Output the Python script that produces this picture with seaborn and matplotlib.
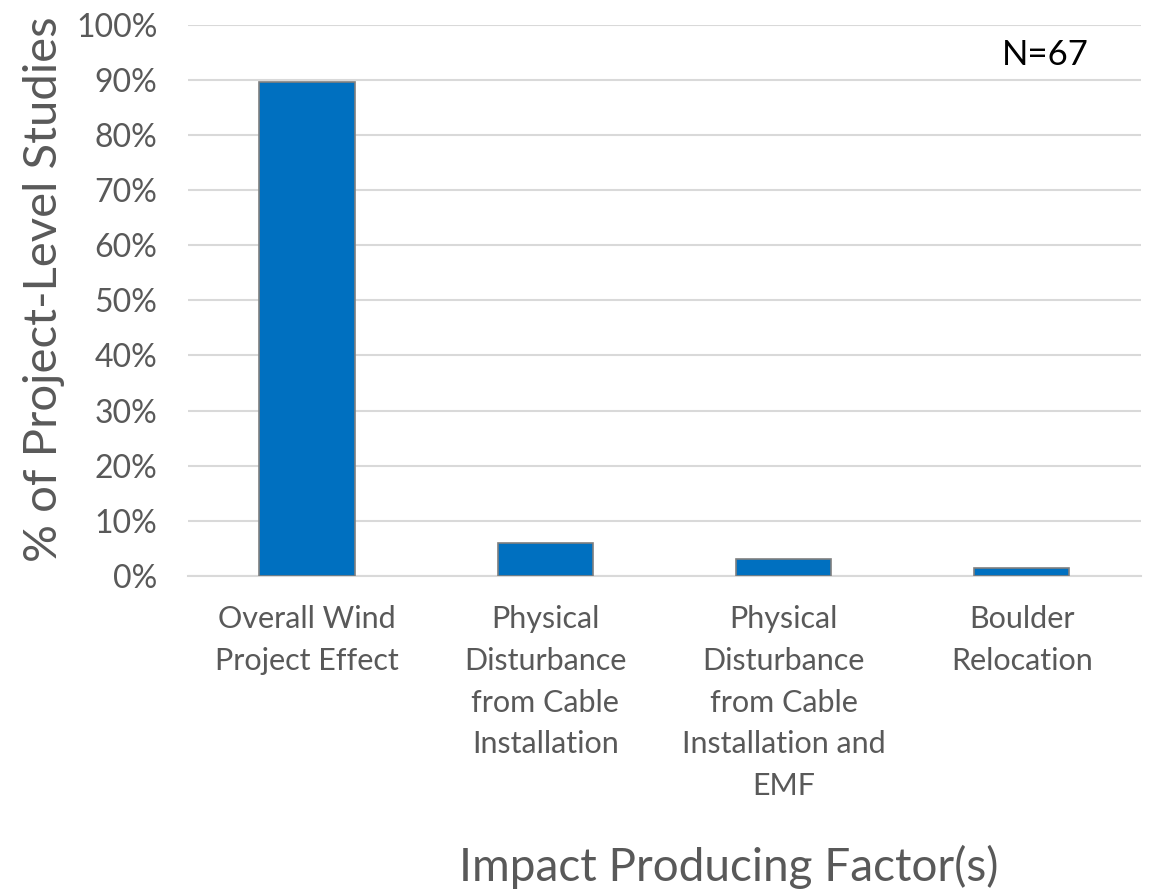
import pandas as pd
import matplotlib.pyplot as plt
import seaborn as sns
from matplotlib.ticker import PercentFormatter

# Data
factors = [
    "Overall Wind\nProject Effect",
    "Physical\nDisturbance\nfrom Cable\nInstallation",
    "Physical\nDisturbance\nfrom Cable\nInstallation and\nEMF",
    "Boulder\nRelocation",
]
study_counts = [60, 4, 2, 1]
n_total = 67
shares = [c / n_total * 100 for c in study_counts]
y_ticks = list(range(0, 101, 10))

df = pd.DataFrame({"Factor": factors, "Share": shares})

sns.set_theme(style="white")
plt.rcParams["font.family"] = ["Lato", "DejaVu Sans"]

fig = plt.figure(figsize=(11.49, 8.90), dpi=100)
ax = fig.add_axes([0.1636, 0.353, 0.8294, 0.619])

sns.barplot(data=df, x="Factor", y="Share", color="#0070C0", width=0.4,
            edgecolor="#7f7f7f", linewidth=1.2, saturation=1, ax=ax, zorder=3)

ax.set_ylim(0, 100)
ax.set_xlim(-0.5, 3.5)
ax.set_yticks(y_ticks)
ax.yaxis.set_major_formatter(PercentFormatter(decimals=0))
ax.grid(axis="y", color="#d9d9d9", linewidth=1.5, zorder=0)
for side in ["top", "right", "left"]:
    ax.spines[side].set_visible(False)
ax.spines["bottom"].set_color("#d9d9d9")
ax.spines["bottom"].set_linewidth(1.5)
ax.tick_params(axis="both", length=0, colors="#595959")
ax.tick_params(axis="y", pad=22, labelsize=23)
ax.tick_params(axis="x", pad=21, labelsize=22)
for lbl in ax.get_xticklabels():
    lbl.set_linespacing(1.6)

ax.set_ylabel("% of Project-Level Studies", fontsize=34, color="#595959", labelpad=8)
ax.yaxis.label.set_y(0.52)
ax.set_xlabel("Impact Producing Factor(s)", fontsize=33, color="#595959", labelpad=32)
ax.xaxis.label.set_x(0.567)

ax.text(0.945, 0.975, f"N={n_total}", transform=ax.transAxes, ha="right", va="top",
        fontsize=25, color="black")

plt.savefig("out.png", dpi=100)
